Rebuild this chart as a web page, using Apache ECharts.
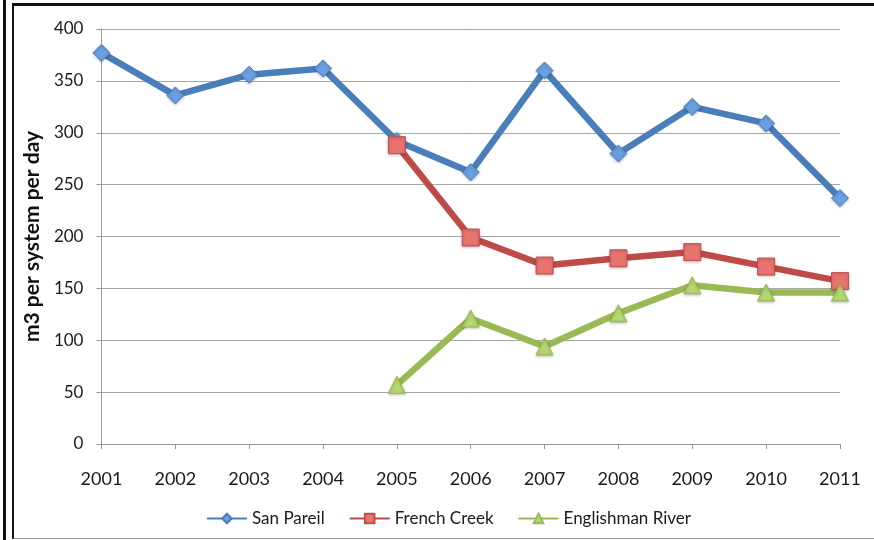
<!DOCTYPE html>
<html>
<head>
<meta charset="utf-8">
<script src="https://cdn.jsdelivr.net/npm/echarts@6/dist/echarts.min.js"></script>
<style>
  html, body { margin: 0; padding: 0; background: #fff; }
  #frame { position: absolute; left: 3px; top: 0; width: 3px; height: 540px; background: #111; }
  #main {
    position: absolute; left: 12px; top: 3px; width: 862px; height: 536px;
    border-left: 2px solid #111; border-top: 3px solid #111; border-bottom: 1px solid #999;
    box-sizing: border-box;
  }
</style>
</head>
<body>
<div id="frame"></div>
<div id="main"></div>
<script>
// 年份
var years = ['2001', '2002', '2003', '2004', '2005', '2006', '2007', '2008', '2009', '2010', '2011'];
// 各系统数据 (m3 per system per day)
var sanPareil = [377, 336, 356, 362, 292, 262, 360, 280, 325, 309, 237];
var frenchCreek = [null, null, null, null, 288, 199, 172, 179, 185, 171, 157];
var englishmanRiver = [null, null, null, null, 57, 121, 94, 126, 153, 146, 146];
var yTicks = { min: 0, max: 400, interval: 50 };

var myChart = echarts.init(document.getElementById('main'));

function lineSeries(name, data, symbol, size, lineColor, fillColor, borderColor) {
    return {
        name: name,
        type: 'line',
        data: data,
        symbol: symbol,
        symbolSize: size,
        showAllSymbol: true,
        connectNulls: false,
        lineStyle: { color: lineColor, width: 6.5 },
        itemStyle: {
            color: fillColor,
            borderColor: borderColor,
            borderWidth: 1,
            shadowColor: 'rgba(0,0,0,0.25)',
            shadowBlur: 3,
            shadowOffsetY: 1
        },
        emphasis: { disabled: true }
    };
}

var option = {
    animation: false,
    textStyle: { fontFamily: 'Lato' },
    grid: { left: 86, right: 34, top: 23, bottom: 94 },
    legend: {
        bottom: 6,
        left: 187,
        itemWidth: 40,
        itemHeight: 12,
        itemGap: 24,
        textStyle: { fontSize: 17, color: '#1a1a1a', fontFamily: 'Lato' },
        data: ['San Pareil', 'French Creek', 'Englishman River']
    },
    xAxis: {
        type: 'category',
        data: years,
        boundaryGap: false,
        axisLine: { lineStyle: { color: '#999', width: 1 } },
        axisTick: { show: true, alignWithLabel: true, length: 5, lineStyle: { color: '#999' } },
        axisLabel: { fontSize: 18, color: '#1a1a1a', margin: 26 },
        splitLine: { show: false }
    },
    yAxis: {
        type: 'value',
        min: yTicks.min,
        max: yTicks.max,
        interval: yTicks.interval,
        name: 'm3 per system per day',
        nameLocation: 'middle',
        nameGap: 55,
        nameTextStyle: { fontSize: 21, fontWeight: 'bold', color: '#111' },
        axisLine: { show: true, lineStyle: { color: '#999', width: 1 } },
        axisTick: { show: true, length: 5, lineStyle: { color: '#999' } },
        axisLabel: { fontSize: 17, color: '#1a1a1a', margin: 18 },
        splitLine: { lineStyle: { color: '#a6a6a6', width: 1 } }
    },
    series: [
        lineSeries('San Pareil', sanPareil, 'diamond', 17, '#4a7ebb', '#6a9fe0', '#4a7ebb'),
        lineSeries('French Creek', frenchCreek, 'rect', 17, '#be4b48', '#e8736f', '#c0504d'),
        lineSeries('Englishman River', englishmanRiver, 'triangle', 17, '#98b954', '#b5d86e', '#98b954')
    ]
};

myChart.setOption(option);
</script>
</body>
</html>
